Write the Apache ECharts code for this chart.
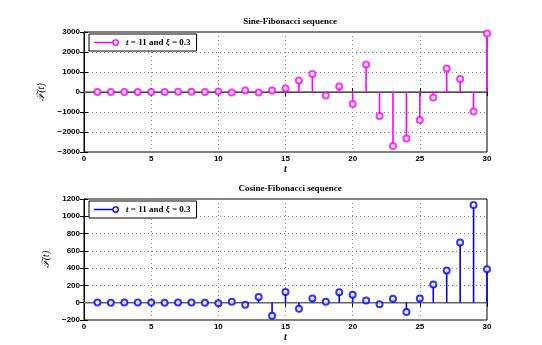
<!DOCTYPE html>
<html><head><meta charset="utf-8">
<script src="https://cdn.jsdelivr.net/npm/echarts@6/dist/echarts.min.js"></script>
<style>html,body{margin:0;padding:0;background:#fff}#c{width:542px;height:345px}</style>
</head><body><div id="c"></div>
<script>
const tValues = [1,2,3,4,5,6,7,8,9,10,11,12,13,14,15,16,17,18,19,20,21,22,23,24,25,26,27,28,29,30];
const sineValues = [3,2,5,4,-3,2,8,12,6,25,-30,80,-20,80,180,580,900,-180,280,-600,1380,-1200,-2700,-2320,-1400,-270,1170,650,-970,2930];
const cosineValues = [2,1,3,2,2,1,2,3,0,-6,12,-23,65,-150,123,-69,50,12,120,92,27,-19,46,-108,50,212,374,698,1130,386];
const xTicks = [0,5,10,15,20,25,30];
const sineYTicks = [-3000,-2000,-1000,0,1000,2000,3000];
const cosineYTicks = [-200,0,200,400,600,800,1000,1200];
const titles = ['Sine-Fibonacci sequence','Cosine-Fibonacci sequence'];
const legendLabel = '{i|t} = 11 and {i|ξ} = 0.3';

const chart = echarts.init(document.getElementById('c'));
const serif = 'Liberation Serif';
const sans = 'Liberation Sans';
const stemIcon = 'path://M0,4.25 L19.5,4.25 L19.5,5.75 L0,5.75 Z M22.5,1.5 A3.5,3.5 0 1,1 22.5,8.5 A3.5,3.5 0 1,1 22.5,1.5 Z M22.5,3 A2,2 0 1,0 22.5,7 A2,2 0 1,0 22.5,3 Z';
const grids = [
  {left:84, right:55, top:32, height:120, show:true, borderColor:'#000', borderWidth:1, backgroundColor:'transparent'},
  {left:84, right:55, top:199, height:121, show:true, borderColor:'#000', borderWidth:1, backgroundColor:'transparent'}
];
function xAx(g, pos, showLabel){
  return {type:'value', gridIndex:g, position:pos, min:xTicks[0], max:xTicks[xTicks.length-1], interval:5,
    axisLine:{show:true,lineStyle:{color:'#000',width:1}},
    axisTick:{show:true,inside:true,length:4,lineStyle:{color:'#000'}},
    axisLabel:{show:showLabel,fontFamily:sans,fontSize:8,fontWeight:'bold',color:'#000',margin:3},
    splitLine:{show:showLabel,lineStyle:{type:[1,3],color:'#888',width:1}},
    name: showLabel ? 't' : '', nameLocation:'middle', nameGap:12,
    nameTextStyle:{fontFamily:serif,fontStyle:'italic',fontWeight:'bold',fontSize:10,color:'#000'}};
}
function yAx(g, pos, showLabel, ticks){
  return {type:'value', gridIndex:g, position:pos, min:ticks[0], max:ticks[ticks.length-1], interval:ticks[1]-ticks[0],
    axisLine:{show:true,lineStyle:{color:'#000',width:1}},
    axisTick:{show:true,inside:true,length:4,lineStyle:{color:'#000'}},
    axisLabel:{show:showLabel,fontFamily:sans,fontSize:8,fontWeight:'bold',color:'#000',margin:4,
      formatter:v=> v<0 ? '\u2212'+Math.abs(v) : ''+v},
    splitLine:{show:showLabel,lineStyle:{type:[1,3],color:'#888',width:1}},
    name: showLabel ? 'ℱ(t)' : '', nameLocation:'middle', nameGap: ticks[0]===-3000?30:28, nameRotate:90,
    nameTextStyle:{fontFamily:serif,fontStyle:'italic',fontSize:10,color:'#000'}};
}
function stem(g, vals, color){
  const data = tValues.map((t,i)=>[t, vals[i]]);
  return [
    {type:'line', xAxisIndex:g*2, yAxisIndex:g*2, data:[[0,0],[30,0]], symbol:'none', silent:true,
      lineStyle:{color:'#666',width:1.5}, z:1},
    {type:'custom', xAxisIndex:g*2, yAxisIndex:g*2, data:data, silent:true, z:2,
      renderItem:(params, api)=>{
        const p0 = api.coord([api.value(0),0]);
        const p1 = api.coord([api.value(0),api.value(1)]);
        return {type:'line', shape:{x1:p0[0],y1:p0[1],x2:p1[0],y2:p1[1]}, style:{stroke:color,lineWidth:1.6}};
      }},
    {type:'scatter', name:'s'+g, xAxisIndex:g*2, yAxisIndex:g*2, data:data, symbol:'emptyCircle', symbolSize:6,
      itemStyle:{color:color,borderColor:color,borderWidth:1.6}, z:3},
    {type:'line', name:'L'+g, xAxisIndex:g*2, yAxisIndex:g*2, data:[], symbol:'emptyCircle', symbolSize:6,
      itemStyle:{color:color,borderColor:color,borderWidth:1.6}, lineStyle:{color:color,width:1.5}}
  ];
}
function legend(g, top){
  return {show:true, data:['L'+g], left:89, top:top, orient:'horizontal',
    backgroundColor:'#fff', borderColor:'#000', borderWidth:1, padding:[4,6,4,5],
    icon: stemIcon, itemWidth:25, itemHeight:7, itemGap:4, itemHeight:7,
    itemStyle:{borderWidth:0},
    formatter:()=>legendLabel,
    textStyle:{fontFamily:serif,fontSize:9,fontWeight:'bold',color:'#000',padding:[0,0,0,2],
      rich:{i:{fontFamily:serif,fontSize:9,fontStyle:'italic',fontWeight:'bold',color:'#000'}}}};
}
chart.setOption({
  animation:false,
  backgroundColor:'#fff',
  title:[
    {text:titles[0], left:285, top:12, textAlign:'center', textStyle:{fontFamily:serif,fontSize:9,fontWeight:'bold',color:'#000'}},
    {text:titles[1], left:285, top:179, textAlign:'center', textStyle:{fontFamily:serif,fontSize:9,fontWeight:'bold',color:'#000'}}
  ],
  grid:grids,
  xAxis:[xAx(0,'bottom',true), xAx(0,'top',false), xAx(1,'bottom',true), xAx(1,'top',false)],
  yAxis:[yAx(0,'left',true,sineYTicks), yAx(0,'right',false,sineYTicks), yAx(1,'left',true,cosineYTicks), yAx(1,'right',false,cosineYTicks)],
  legend:[legend(0,34), legend(1,201)],
  series:[...stem(0, sineValues, '#ff00ff'), ...stem(1, cosineValues, '#0000ff')]
});
</script></body></html>
